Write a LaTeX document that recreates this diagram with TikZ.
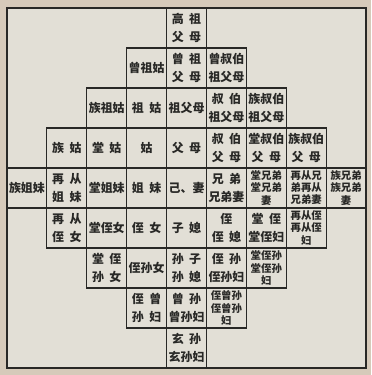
\documentclass[tikz,border=0pt]{standalone}
\usepackage{fontspec}
\setmainfont{Noto Sans CJK SC}
\usepackage{xcolor}
\definecolor{kinpaper}{RGB}{226,223,214}
\definecolor{kinmargin}{RGB}{214,202,186}
\definecolor{kinink}{RGB}{40,40,38}
\newcommand{\gp}{\hspace{0.45em}}

\begin{document}
\begin{tikzpicture}[x=0.9975cm, y=-1cm,
  cell/.style={draw=kinink, line width=0.8pt, minimum width=0.9975cm, minimum height=1cm, inner sep=0pt, align=center, text=kinink, font=\fontsize{8.5}{12.5}\selectfont\bfseries},
  tight/.style={cell, font=\fontsize{7.4}{8.6}\selectfont\bfseries}]
  \fill[kinmargin] (-0.175,-0.2) rectangle (9.125,9.175);
  \useasboundingbox (-0.175,-0.2) rectangle (9.125,9.175);
  \fill[kinpaper] (0,0) rectangle (9,9);

  \node[cell] (gaozu) at (4.5,0.5) {高\gp{}祖\\父\gp{}母};

  \node[cell] (zengzugu) at (3.5,1.5) {曾祖姑};
  \node[cell] (zengzu) at (4.5,1.5) {曾\gp{}祖\\父\gp{}母};
  \node[cell] (zengshubo) at (5.5,1.5) {曾叔伯\\祖父母};

  \node[cell] (zuzugu) at (2.5,2.5) {族祖姑};
  \node[cell] (zugu) at (3.5,2.5) {祖\gp{}姑};
  \node[cell] (zufumu) at (4.5,2.5) {祖父母};
  \node[cell] (shubozu) at (5.5,2.5) {叔\gp{}伯\\祖父母};
  \node[cell] (zushubozu) at (6.5,2.5) {族叔伯\\祖父母};

  \node[cell] (zugu2) at (1.5,3.5) {族\gp{}姑};
  \node[cell] (tanggu) at (2.5,3.5) {堂\gp{}姑};
  \node[cell] (gu) at (3.5,3.5) {姑};
  \node[cell] (fumu) at (4.5,3.5) {父\gp{}母};
  \node[cell] (shubo) at (5.5,3.5) {叔\gp{}伯\\父\gp{}母};
  \node[cell] (tangshubo) at (6.5,3.5) {堂叔伯\\父\gp{}母};
  \node[cell] (zushubo) at (7.5,3.5) {族叔伯\\父\gp{}母};

  \node[cell] (zujiemei) at (0.5,4.5) {族姐妹};
  \node[cell] (zaicongjiemei) at (1.5,4.5) {再\gp{}从\\姐\gp{}妹};
  \node[cell] (tangjiemei) at (2.5,4.5) {堂姐妹};
  \node[cell] (jiemei) at (3.5,4.5) {姐\gp{}妹};
  \node[cell] (ji) at (4.5,4.5) {己、妻};
  \node[cell] (xiongdi) at (5.5,4.5) {兄\gp{}弟\\兄弟妻};
  \node[tight] (tangxiongdi) at (6.5,4.5) {堂兄弟\\堂兄弟\\妻};
  \node[tight] (zaicongxiongdi) at (7.5,4.5) {再从兄\\弟再从\\兄弟妻};
  \node[tight] (zuxiongdi) at (8.5,4.5) {族兄弟\\族兄弟\\妻};

  \node[cell] (zaicongzhinv) at (1.5,5.5) {再\gp{}从\\侄\gp{}女};
  \node[cell] (tangzhinv) at (2.5,5.5) {堂侄女};
  \node[cell] (zhinv) at (3.5,5.5) {侄\gp{}女};
  \node[cell] (zixi) at (4.5,5.5) {子\gp{}媳};
  \node[cell] (zhi) at (5.5,5.5) {侄\\侄\gp{}媳};
  \node[cell] (tangzhi) at (6.5,5.5) {堂\gp{}侄\\堂侄妇};
  \node[tight] (zaicongzhi) at (7.5,5.5) {再从侄\\再从侄\\妇};

  \node[cell] (tangzhisunnv) at (2.5,6.5) {堂\gp{}侄\\孙\gp{}女};
  \node[cell] (zhisunnv) at (3.5,6.5) {侄孙女};
  \node[cell] (sunzi) at (4.5,6.5) {孙\gp{}子\\孙\gp{}媳};
  \node[cell] (zhisun) at (5.5,6.5) {侄\gp{}孙\\侄孙妇};
  \node[tight] (tangzhisun) at (6.5,6.5) {堂侄孙\\堂侄孙\\妇};

  \node[cell] (zhizengsunnv) at (3.5,7.5) {侄\gp{}曾\\孙\gp{}妇};
  \node[cell] (zengsun) at (4.5,7.5) {曾\gp{}孙\\曾孙妇};
  \node[tight] (zhizengsun) at (5.5,7.5) {侄曾孙\\侄曾孙\\妇};

  \node[cell] (xuansun) at (4.5,8.5) {玄\gp{}孙\\玄孙妇};

  \draw[kinink, line width=1.3pt] (0,0) rectangle (9,9);
\end{tikzpicture}
\end{document}
